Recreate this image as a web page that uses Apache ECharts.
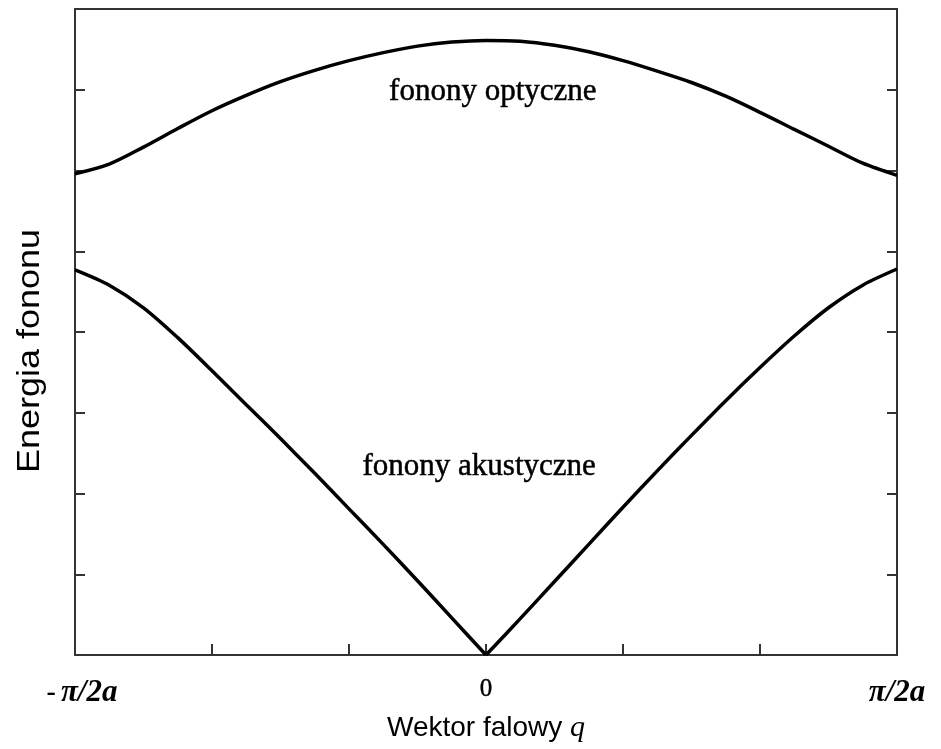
<!DOCTYPE html>
<html>
<head>
<meta charset="utf-8">
<script src="https://cdn.jsdelivr.net/npm/echarts@6/dist/echarts.min.js"></script>
<style>
  html, body { margin: 0; padding: 0; background: #fff; }
  #chart { width: 941px; height: 749px; }
</style>
</head>
<body>
<div id="chart"></div>
<script>
// Wave vector q in units where ±3 marks the zone edges (±π/2a)
const q = [-3, -2.75, -2.5, -2.25, -2, -1.75, -1.5, -1.25, -1, -0.75, -0.5, -0.25,
           0, 0.25, 0.5, 0.75, 1, 1.25, 1.5, 1.75, 2, 2.25, 2.5, 2.75, 3];

// Optical branch energies
const optical = [5.96, 6.08, 6.29, 6.52, 6.74, 6.93, 7.10, 7.24, 7.36, 7.46, 7.54, 7.59,
                 7.61, 7.60, 7.55, 7.47, 7.36, 7.23, 7.09, 6.92, 6.72, 6.51, 6.30, 6.09, 5.94];

// Acoustic branch energies
const acoustic = [4.77, 4.58, 4.30, 3.93, 3.52, 3.10, 2.68, 2.25, 1.81, 1.37, 0.92, 0.46,
                  0, 0.45, 0.91, 1.37, 1.83, 2.28, 2.72, 3.15, 3.56, 3.95, 4.30, 4.58, 4.78];

// Branch captions and where they sit in data coordinates
const captions = [
  { text: 'fonony optyczne', q: 0.05, e: 6.97 },
  { text: 'fonony akustyczne', q: -0.05, e: 2.33 }
];

// Tick labels shown along the q axis
const qTickLabels = { '-3': '{m|-}{b|π/2a}', '0': '{z|0}', '3': '{b|π/2a}' };

const axisColor = '#333';
const serif = '"Liberation Serif", "DejaVu Serif", serif';
const sans = '"Liberation Sans", Arial, sans-serif';

const pairs = (xs, ys) => xs.map((x, i) => [x, ys[i]]);
const acousticPts = pairs(q, acoustic);
const curveStyle = { color: '#000', width: 3.5 };

const chart = echarts.init(document.getElementById('chart'), null, { renderer: 'canvas' });

chart.setOption({
  animation: false,
  backgroundColor: '#fff',
  grid: { left: 75, right: 44, top: 9, bottom: 94 },
  xAxis: [
    {
      type: 'value', min: -3, max: 3, interval: 1,
      axisLine: { onZero: false, lineStyle: { color: axisColor, width: 2 } },
      axisTick: { inside: true, length: 11, lineStyle: { color: axisColor, width: 2 } },
      splitLine: { show: false },
      axisLabel: {
        margin: 22,
        formatter: v => qTickLabels[String(v)] || '',
        rich: {
          m: { fontFamily: serif, fontSize: 28, fontWeight: 'bold', color: '#000', padding: [0, 5, 0, 14] },
          b: { fontFamily: serif, fontSize: 31, fontStyle: 'italic', fontWeight: 'bold', color: '#000' },
          z: { fontFamily: serif, fontSize: 25, color: '#000', textBorderColor: '#000', textBorderWidth: 0.4 }
        }
      },
      name: '{s|Wektor falowy }{q|q}',
      nameLocation: 'middle',
      nameGap: 49,
      nameTextStyle: {
        rich: {
          s: { fontFamily: sans, fontSize: 28, color: '#000' },
          q: { fontFamily: serif, fontSize: 30, fontStyle: 'italic', color: '#000' }
        }
      }
    },
    {
      type: 'value', min: -3, max: 3, interval: 1, position: 'top',
      axisLine: { onZero: false, lineStyle: { color: axisColor, width: 2 } },
      axisTick: { show: false }, axisLabel: { show: false }, splitLine: { show: false }
    }
  ],
  yAxis: [
    {
      type: 'value', min: 0, max: 8, interval: 1,
      axisLine: { show: true, onZero: false, lineStyle: { color: axisColor, width: 2 } },
      axisTick: { show: true, inside: true, length: 10, lineStyle: { color: axisColor, width: 2 } },
      axisLabel: { show: false },
      splitLine: { show: false }
    },
    {
      type: 'value', min: 0, max: 8, interval: 1, position: 'right',
      axisLine: { show: true, onZero: false, lineStyle: { color: axisColor, width: 2 } },
      axisTick: { show: true, inside: true, length: 10, lineStyle: { color: axisColor, width: 2 } },
      axisLabel: { show: false },
      splitLine: { show: false }
    }
  ],
  // Vertical axis title, stretched along its length
  graphic: [{
    type: 'text',
    x: 30, y: 351,
    rotation: Math.PI / 2,
    scaleX: 1.16,
    style: {
      text: 'Energia fononu',
      font: '31px "Liberation Sans", Arial, sans-serif',
      fill: '#000',
      align: 'center',
      verticalAlign: 'middle'
    }
  }],
  series: [
    {
      type: 'line', name: 'optical', smooth: 0.3, symbol: 'none',
      data: pairs(q, optical),
      lineStyle: curveStyle
    },
    {
      type: 'line', name: 'acoustic', smooth: 0.3, symbol: 'none',
      data: acousticPts.filter(p => p[0] <= 0),
      lineStyle: curveStyle
    },
    {
      type: 'line', name: 'acoustic', smooth: 0.3, symbol: 'none',
      data: acousticPts.filter(p => p[0] >= 0),
      lineStyle: curveStyle
    },
    {
      type: 'scatter', name: 'captions', symbolSize: 0, silent: true,
      itemStyle: { opacity: 1 },
      data: captions.map(c => ({ value: [c.q, c.e], caption: c.text })),
      label: {
        show: true, position: 'inside', opacity: 1,
        formatter: p => p.data.caption,
        fontFamily: serif, fontSize: 31, color: '#000',
        textBorderColor: '#000', textBorderWidth: 0.5
      }
    }
  ]
});
</script>
</body>
</html>
